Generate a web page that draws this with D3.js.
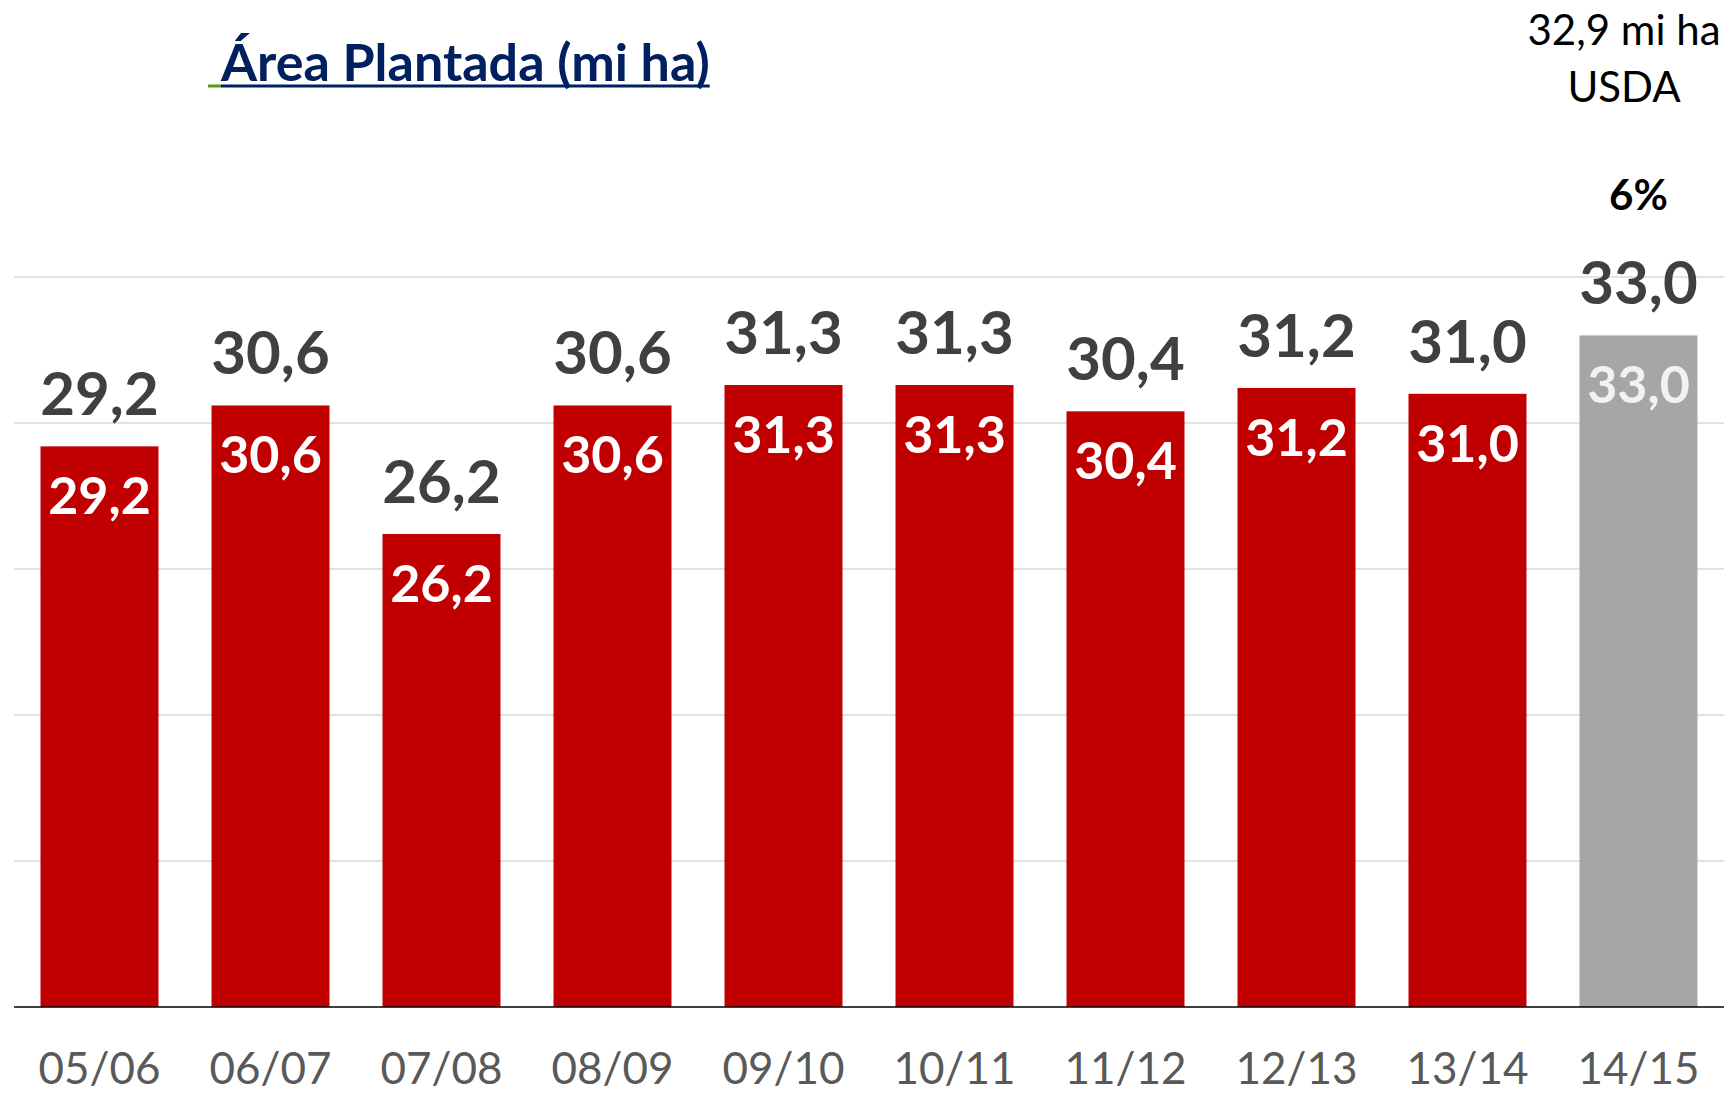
<!DOCTYPE html>
<html>
<head>
<meta charset="utf-8">
<script src="https://cdn.jsdelivr.net/npm/d3@7"></script>
<style>
  html, body { margin: 0; padding: 0; background: #ffffff; }
  svg { display: block; }
  text { font-family: Lato, "Open Sans", sans-serif; }
</style>
</head>
<body>
<svg id="chart" width="1733" height="1095"></svg>
<script>
// ---- data ----
const categories = ["05/06", "06/07", "07/08", "08/09", "09/10", "10/11", "11/12", "12/13", "13/14", "14/15"];
const values = [29.2, 30.6, 26.2, 30.6, 31.3, 31.3, 30.4, 31.2, 31.0, 33.0];
const isForecast = [false, false, false, false, false, false, false, false, false, true];
const yTicks = [10, 15, 20, 25, 30, 35];
const titleText = "Área Plantada (mi ha)";
const noteLines = ["32,9 mi ha", "USDA"];
const changeLabel = "6%";

// ---- layout ----
const W = 1733, H = 1095;
const plot = { left: 14, right: 1724, top: 277, bottom: 1007 };
const fmt = v => v.toFixed(1).replace(".", ",");

const svg = d3.select("#chart");

const x = d3.scaleBand()
  .domain(categories)
  .range([plot.left, plot.right])
  .paddingInner(0.31)
  .paddingOuter(0.155);

const y = d3.scaleLinear()
  .domain([10, 35])
  .range([plot.bottom, plot.top]);

// gridlines
svg.append("g")
  .selectAll("line")
  .data(yTicks.slice(1))
  .join("line")
  .attr("x1", plot.left).attr("x2", plot.right)
  .attr("y1", d => y(d)).attr("y2", d => y(d))
  .attr("stroke", "#d9d9d9")
  .attr("stroke-width", 1.5);

// bars
const data = categories.map((c, i) => ({ c, v: values[i], f: isForecast[i] }));
svg.append("g")
  .selectAll("rect")
  .data(data)
  .join("rect")
  .attr("x", d => x(d.c))
  .attr("width", x.bandwidth())
  .attr("y", d => y(d.v))
  .attr("height", d => y(10) - y(d.v))
  .attr("fill", d => d.f ? "#a6a6a6" : "#c00000");

// x axis
const xAxis = svg.append("g")
  .attr("transform", `translate(0,${plot.bottom})`)
  .call(d3.axisBottom(x).tickSize(0).tickPadding(0));
xAxis.select(".domain").attr("stroke", "#000").attr("stroke-width", 1.5)
  .attr("d", `M${plot.left},0H${plot.right}`);
xAxis.selectAll(".tick text")
  .attr("y", 77)
  .attr("dy", 0)
  .attr("fill", "#595959")
  .style("font-family", "Lato, sans-serif")
  .style("font-size", "44px")
  .style("font-weight", "400");

// outside labels
svg.append("g")
  .selectAll("text")
  .data(data)
  .join("text")
  .attr("x", d => x(d.c) + x.bandwidth() / 2)
  .attr("y", d => y(d.v) - 31)
  .attr("text-anchor", "middle")
  .attr("fill", "#404040")
  .style("font-size", "60px")
  .style("font-weight", "700")
  .text(d => fmt(d.v));

// inside labels
svg.append("g")
  .selectAll("text")
  .data(data)
  .join("text")
  .attr("x", d => x(d.c) + x.bandwidth() / 2)
  .attr("y", d => y(d.v) + 68)
  .attr("text-anchor", "middle")
  .attr("fill", d => d.f ? "#f2f2f2" : "#ffffff")
  .style("font-size", "52px")
  .style("font-weight", "700")
  .text(d => fmt(d.v));

// title
const title = svg.append("text")
  .attr("x", 221)
  .attr("y", 81)
  .attr("fill", "#002060")
  .style("font-size", "52px")
  .style("font-weight", "700")
  .text(titleText);
const tLen = title.node().getComputedTextLength();
svg.append("rect").attr("x", 208).attr("y", 84.5).attr("width", 13).attr("height", 3).attr("fill", "#5a9a16");
svg.append("rect").attr("x", 221).attr("y", 84.5).attr("width", tLen).attr("height", 3).attr("fill", "#002060");

// note top right
const lastCx = x(categories[categories.length - 1]) + x.bandwidth() / 2;
svg.append("g")
  .selectAll("text")
  .data(noteLines)
  .join("text")
  .attr("x", 1624)
  .attr("y", (d, i) => 45 + i * 57)
  .attr("text-anchor", "middle")
  .attr("fill", "#000")
  .style("font-size", "42px")
  .style("font-weight", "400")
  .text(d => d);

svg.append("text")
  .attr("x", lastCx)
  .attr("y", 210)
  .attr("text-anchor", "middle")
  .attr("fill", "#000")
  .style("font-size", "42px")
  .style("font-weight", "700")
  .text(changeLabel);
</script>
</body>
</html>
